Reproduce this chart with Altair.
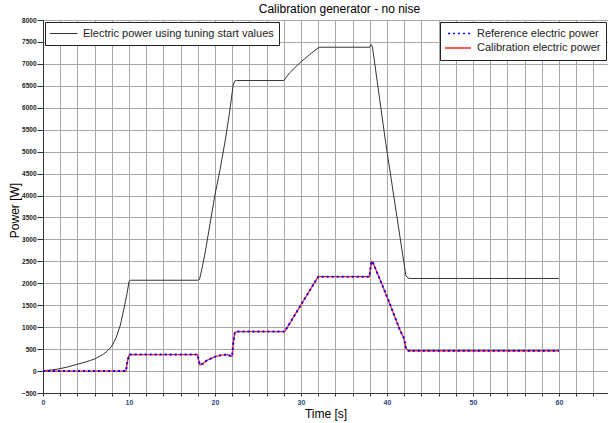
import altair as alt
import pandas as pd

# ---- data ----
t_tune = [0, 1, 2, 3, 4, 5, 6, 7, 7.5, 8, 8.5, 9, 9.5, 9.8, 10.0, 10.2,
          18.0, 18.2, 18.5, 18.85, 19.4, 20.0, 20.6, 21.2, 21.7, 22.1, 22.3, 22.5,
          28.0, 28.7, 29.9, 31.0, 32.1, 38.0, 38.15, 38.3, 39.8, 41.5, 42.2, 42.45, 42.7, 60]
p_tune = [10, 25, 55, 100, 155, 210, 275, 380, 460, 570, 760, 1050, 1500, 1800, 2040, 2070,
          2070, 2090, 2350, 2690, 3330, 4020, 4600, 5270, 5900, 6500, 6610, 6620,
          6620, 6800, 7030, 7210, 7380, 7380, 7440, 7400, 5270, 3070, 2170, 2120, 2110, 2110]

t_ref = [0, 9.65, 9.8, 10.0, 10.1, 17.98, 18.1, 18.25, 18.6, 19.0, 19.6, 20.2, 20.8, 21.4,
         21.8, 22.0, 22.1, 22.3, 22.5, 28.1, 32.0, 37.95, 38.2, 38.35, 39.2, 40.15, 41.5,
         41.98, 42.2, 42.5, 60]
p_ref = [0, 0, 200, 360, 375, 375, 250, 140, 170, 235, 295, 340, 365, 375,
         345, 340, 600, 870, 900, 900, 2150, 2150, 2500, 2480, 2078, 1621, 936,
         746, 518, 463, 463]

t_cal = [0, 9.65, 9.8, 10.0, 10.1, 17.98, 18.1, 18.25, 18.6, 19.0, 19.6, 20.2, 20.8, 21.4,
         21.8, 22.0, 22.1, 22.3, 22.5, 28.1, 32.0, 37.95, 38.2, 38.35, 39.2, 40.15, 41.5,
         41.98, 42.2, 42.5, 60]
p_cal = [0, 0, 200, 360, 375, 375, 250, 140, 170, 235, 295, 340, 365, 375,
         345, 340, 600, 870, 900, 900, 2150, 2150, 2500, 2480, 2078, 1621, 936,
         746, 518, 463, 463]

series_tune = "Electric power using tuning start values"
series_ref = "Reference electric power"
series_cal = "Calibration electric power"

x_ticks = list(range(0, 66, 2))
y_ticks = list(range(-500, 8001, 500))

df_tune = pd.DataFrame({"t": t_tune, "p": p_tune, "s1": series_tune})
df_ref = pd.DataFrame({"t": t_ref, "p": p_ref, "series": series_ref})
df_cal = pd.DataFrame({"t": t_cal, "p": p_cal, "series": series_cal})

FONT = "Liberation Sans"

x_enc = alt.X(
    "t:Q",
    scale=alt.Scale(domain=[0, 65.7], nice=False, zero=False),
    axis=alt.Axis(
        title="Time [s]", values=x_ticks,
        labelExpr="datum.value % 10 === 0 ? datum.label : ''",
        format="d", labelFontSize=7, labelFontWeight="bold", labelColor="#2b4a80",
        labelPadding=2, tickSize=3, titleFontSize=12, titleFontWeight="normal",
        titleColor="black", titlePadding=3, labelFlush=False,
    ),
)
y_enc = alt.Y(
    "p:Q",
    scale=alt.Scale(domain=[-500, 8000], nice=False, zero=False),
    axis=alt.Axis(
        title="Power [W]", values=y_ticks, format="d",
        labelFontSize=6.5, labelFontWeight="bold", labelColor="#222",
        labelPadding=1, tickSize=6, titleFontSize=12, titleFontWeight="normal",
        titleColor="black", titleX=-29, titleY=190, titleBaseline="middle",
    ),
)

common_legend = dict(
    title=None, orient="none", padding=5, fillColor="white", strokeColor="#222",
    symbolType="stroke", symbolSize=784, clipHeight=13, labelFont=FONT,
    labelFontSize=11, labelColor="#222", labelLimit=400,
)
legend_left = alt.Legend(legendX=2, legendY=2, symbolStrokeWidth=1, symbolOffset=-1,
                         labelOffset=5, **common_legend)
legend_right = alt.Legend(legendX=397, legendY=2, symbolStrokeWidth=1.6, symbolOffset=-3,
                          labelOffset=5, rowPadding=1.5, **common_legend)

tune = alt.Chart(df_tune).mark_line(strokeWidth=1).encode(
    x=x_enc, y=y_enc,
    color=alt.Color("s1:N", scale=alt.Scale(domain=[series_tune], range=["#333333"]),
                    legend=legend_left),
)

stroke_scale = alt.Scale(domain=[series_ref, series_cal], range=["#0000ff", "#ff2020"])
dash_scale = alt.Scale(domain=[series_ref, series_cal], range=[[2, 3], [1, 0]])

cal = alt.Chart(df_cal).mark_line(strokeWidth=1.3).encode(
    x=x_enc, y=y_enc,
    stroke=alt.Stroke("series:N", scale=stroke_scale, legend=legend_right),
    strokeDash=alt.StrokeDash("series:N", scale=dash_scale, legend=legend_right),
)
ref = alt.Chart(df_ref).mark_line(strokeWidth=2).encode(
    x=x_enc, y=y_enc,
    stroke=alt.Stroke("series:N", scale=stroke_scale, legend=legend_right),
    strokeDash=alt.StrokeDash("series:N", scale=dash_scale, legend=legend_right),
)

chart = (
    alt.layer(tune, cal, ref)
    .properties(
        width=565, height=373,
        autosize=alt.AutoSizeParams(type="none"),
        padding={"left": 43, "top": 20, "right": 0, "bottom": 30},
        title=alt.TitleParams("Calibration generator - no nise", fontSize=12,
                              fontWeight="normal", font=FONT, color="black",
                              dx=14, offset=1, anchor="middle"),
    )
    .configure(font=FONT)
    .configure_view(stroke="#444", strokeWidth=1)
    .configure_axis(gridColor="#a8a8a8", gridWidth=1, domainColor="#333",
                    tickColor="#333", labelFont=FONT, titleFont=FONT)
)

chart.save("out.html", embed_options={"renderer": "svg", "actions": False})
